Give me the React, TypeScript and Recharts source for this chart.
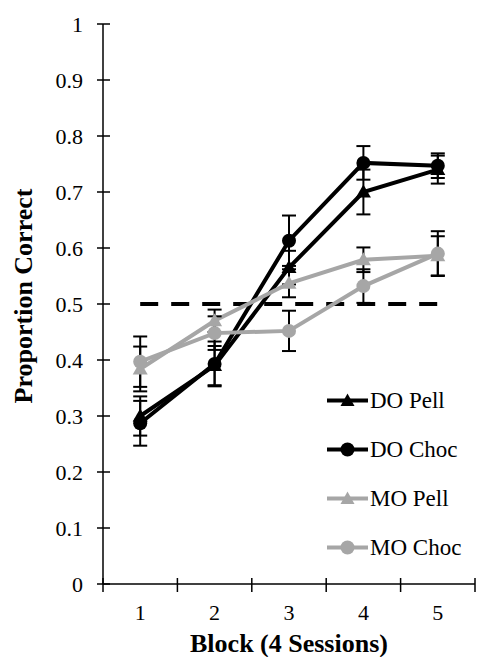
import React from 'react';
import { LineChart, Line, XAxis, YAxis, ErrorBar, Legend, Label } from 'recharts';

const blocks = [1, 2, 3, 4, 5];
const doPell = [0.3, 0.39, 0.565, 0.7, 0.74];
const doPellErr = [0.035, 0.035, 0.03, 0.04, 0.025];
const doChoc = [0.287, 0.393, 0.613, 0.752, 0.747];
const doChocErr = [0.04, 0.04, 0.045, 0.03, 0.022];
const moPell = [0.384, 0.47, 0.537, 0.579, 0.586];
const moPellErr = [0.04, 0.02, 0.025, 0.022, 0.035];
const moChoc = [0.397, 0.448, 0.452, 0.532, 0.59];
const moChocErr = [0.045, 0.03, 0.036, 0.03, 0.04];
const chance = [0.5, 0.5, 0.5, 0.5, 0.5];
const xTicks = [0.5, 1, 1.5, 2, 2.5, 3, 3.5, 4, 4.5, 5, 5.5];
const yTicks = [0, 0.1, 0.2, 0.3, 0.4, 0.5, 0.6, 0.7, 0.8, 0.9, 1];

const data = blocks.map((b, i) => ({
  block: b,
  doPell: doPell[i],
  doPellErr: doPellErr[i],
  doChoc: doChoc[i],
  doChocErr: doChocErr[i],
  moPell: moPell[i],
  moPellErr: moPellErr[i],
  moChoc: moChoc[i],
  moChocErr: moChocErr[i],
  chance: chance[i],
}));

const FONT = '"Liberation Serif", "Times New Roman", serif';
const BLACK = '#000000';
const GRAY = '#A6A6A6';
const tickStyle = { fontFamily: FONT, fontSize: 22, fill: '#000' };

const Triangle = (props: any) => {
  const { cx, cy, fill } = props;
  if (cx == null || cy == null) return null;
  return <polygon points={`${cx},${cy - 7.5} ${cx - 7.5},${cy + 5.5} ${cx + 7.5},${cy + 5.5}`} fill={fill} stroke="none" />;
};
const Circle = (props: any) => {
  const { cx, cy, fill } = props;
  if (cx == null || cy == null) return null;
  return <circle cx={cx} cy={cy} r={7} fill={fill} stroke="none" />;
};

const XTick = (props: any) => {
  const { x, y, payload } = props;
  const v = payload.value;
  if (Number.isInteger(v)) {
    return (
      <text x={x} y={y + 36} textAnchor="middle" style={tickStyle}>
        {v}
      </text>
    );
  }
  return <line x1={x} x2={x} y1={y - 6} y2={y + 8} stroke="#000" strokeWidth={1.5} />;
};

const YTick = (props: any) => {
  const { x, y, payload } = props;
  return (
    <g>
      <line x1={x - 6} x2={x + 7} y1={y} y2={y} stroke="#000" strokeWidth={1.5} />
      <text x={x - 20} y={y + 7.5} textAnchor="end" style={tickStyle}>
        {payload.value}
      </text>
    </g>
  );
};

const legendItems = [
  { name: 'DO Pell', color: BLACK, shape: 'tri' },
  { name: 'DO Choc', color: BLACK, shape: 'circ' },
  { name: 'MO Pell', color: GRAY, shape: 'tri' },
  { name: 'MO Choc', color: GRAY, shape: 'circ' },
];

const renderLegend = () => (
  <div>
    {legendItems.map((it) => (
      <svg key={it.name} width={150} height={49} style={{ display: 'block' }}>
        <line x1={0} x2={41} y1={24.5} y2={24.5} stroke={it.color} strokeWidth={4} />
        {it.shape === 'tri' ? (
          <polygon points={`20.5,17.5 13.5,30 27.5,30`} fill={it.color} />
        ) : (
          <circle cx={20.5} cy={24.5} r={7} fill={it.color} />
        )}
        <text x={43} y={32} style={{ fontFamily: FONT, fontSize: 23, fill: '#000' }}>
          {it.name}
        </text>
      </svg>
    ))}
  </div>
);

export default function App() {
  return (
    <div style={{ position: 'absolute', left: 0, top: 0, width: 477, height: 657, background: '#fff' }}>
      <LineChart width={477} height={657} data={data} margin={{ top: 24, right: 2, bottom: 0, left: 0 }}>
        <XAxis
          type="number"
          dataKey="block"
          domain={[0.5, 5.5]}
          ticks={xTicks}
          interval={0}
          tickSize={0}
          tickMargin={0}
          tickLine={false}
          tick={<XTick />}
          axisLine={{ stroke: '#000', strokeWidth: 1.5 }}
          height={73}
        >
          <Label
            value="Block (4 Sessions)"
            position="insideBottom"
            offset={5}
            style={{ fontFamily: FONT, fontSize: 26, fontWeight: 'bold', fill: '#000' }}
          />
        </XAxis>
        <YAxis
          type="number"
          domain={[0, 1]}
          ticks={yTicks}
          interval={0}
          tickSize={0}
          tickMargin={0}
          tickLine={false}
          tick={<YTick />}
          axisLine={{ stroke: '#000', strokeWidth: 1.5 }}
          width={103}
        >
          <Label
            value="Proportion Correct"
            angle={-90}
            position="center"
            dx={-29}
            dy={-8}
            style={{ fontFamily: FONT, fontSize: 26, fontWeight: 'bold', fill: '#000' }}
          />
        </YAxis>
        <Legend
          layout="horizontal"
          verticalAlign="middle"
          align="center"
          content={renderLegend}
          wrapperStyle={{ left: 327, top: 376, width: 150 }}
        />
        <Line
          dataKey="chance"
          stroke={BLACK}
          strokeWidth={4}
          strokeDasharray="18 13"
          dot={false}
          activeDot={false}
          legendType="none"
          isAnimationActive={false}
        />
        <Line dataKey="doPell" name="DO Pell" stroke={BLACK} strokeWidth={4} dot={<Triangle fill={BLACK} />} activeDot={false} isAnimationActive={false}>
          <ErrorBar dataKey="doPellErr" direction="y" width={7} stroke="#000" strokeWidth={2} />
        </Line>
        <Line dataKey="doChoc" name="DO Choc" stroke={BLACK} strokeWidth={4} dot={<Circle fill={BLACK} />} activeDot={false} isAnimationActive={false}>
          <ErrorBar dataKey="doChocErr" direction="y" width={7} stroke="#000" strokeWidth={2} />
        </Line>
        <Line dataKey="moPell" name="MO Pell" stroke={GRAY} strokeWidth={4} dot={<Triangle fill={GRAY} />} activeDot={false} isAnimationActive={false}>
          <ErrorBar dataKey="moPellErr" direction="y" width={7} stroke="#000" strokeWidth={2} />
        </Line>
        <Line dataKey="moChoc" name="MO Choc" stroke={GRAY} strokeWidth={4} dot={<Circle fill={GRAY} />} activeDot={false} isAnimationActive={false}>
          <ErrorBar dataKey="moChocErr" direction="y" width={7} stroke="#000" strokeWidth={2} />
        </Line>
      </LineChart>
    </div>
  );
}
